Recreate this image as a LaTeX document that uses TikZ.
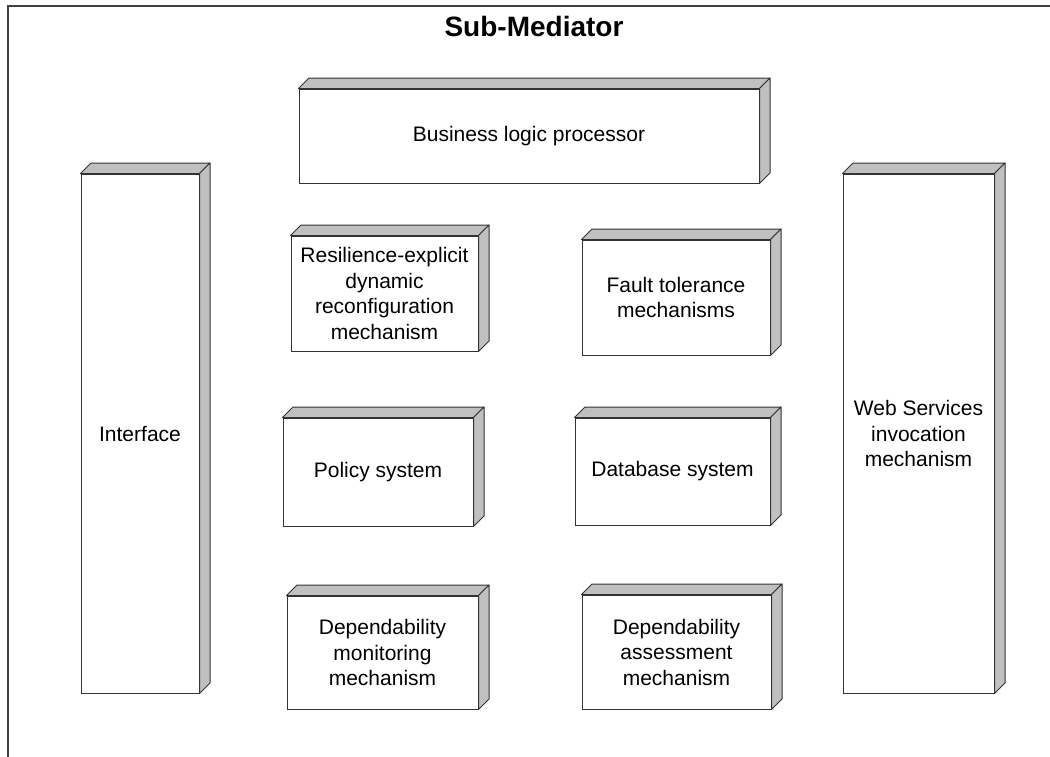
\documentclass[tikz,border=0pt]{standalone}
\usepackage{fontspec}
\setmainfont{Liberation Sans}
\usetikzlibrary{calc}
\definecolor{facegray}{HTML}{C0C0C0}
\definecolor{edge}{HTML}{333333}
\newcommand\boxdepth{10.5}
\newcommand\sidefaces[1]{%
  \filldraw[fill=facegray,draw=edge,line width=1pt,line join=round]
    (#1.north west) -- ++(\boxdepth,-\boxdepth) -- ($(#1.north east)+(\boxdepth,-\boxdepth)$)
    -- (#1.north east) -- cycle;
  \filldraw[fill=facegray,draw=edge,line width=1pt,line join=round]
    (#1.north east) -- ++(\boxdepth,-\boxdepth) -- ($(#1.south east)+(\boxdepth,-\boxdepth)$)
    -- (#1.south east) -- cycle;}
\tikzset{
  comp/.style={draw=edge, fill=white, line width=1pt, rectangle, inner sep=0pt,
    align=center, font=\fontsize{21}{25.5}\selectfont},
  titletext/.style={font=\fontsize{28}{32}\selectfont\bfseries, inner sep=0pt}
}
\begin{document}
\begin{tikzpicture}[x=1pt,y=-1pt]
\useasboundingbox (0,0) rectangle (1050,756);
\clip (0,0) rectangle (1050,756);
\fill[white] (0,0) rectangle (1050,756);
\draw[black!75,line width=1.3pt] (8,6) rectangle (1065,775);
\node[titletext, anchor=base] (title) at (534,36) {Sub-Mediator};

\node[comp, minimum width=460pt, minimum height=94pt] (biz) at (529,136) {Business logic processor};
\node[comp, minimum width=118pt, minimum height=519pt] (iface) at (140,433.5) {Interface};
\node[comp, minimum width=151pt, minimum height=519pt] (ws) at (918.5,433.5) {Web Services\\invocation\\mechanism};
\node[comp, minimum width=187pt, minimum height=115pt] (res) at (384.5,293.5) {Resilience-explicit\\dynamic\\reconfiguration\\mechanism};
\node[comp, minimum width=188pt, minimum height=115pt] (fault) at (676,297.5) {Fault tolerance\\mechanisms};
\node[comp, minimum width=190pt, minimum height=108pt] (policy) at (378,472) {Policy system};
\node[comp, minimum width=195pt, minimum height=107pt] (db) at (672.5,471.5) {Database system};
\node[comp, minimum width=191pt, minimum height=113pt] (depmon) at (382.5,652.5) {Dependability\\monitoring\\mechanism};
\node[comp, minimum width=189pt, minimum height=114pt] (depass) at (676.5,652) {Dependability\\assessment\\mechanism};

\foreach \n in {biz,iface,ws,res,fault,policy,db,depmon,depass} {\sidefaces{\n}}
\end{tikzpicture}
\end{document}
